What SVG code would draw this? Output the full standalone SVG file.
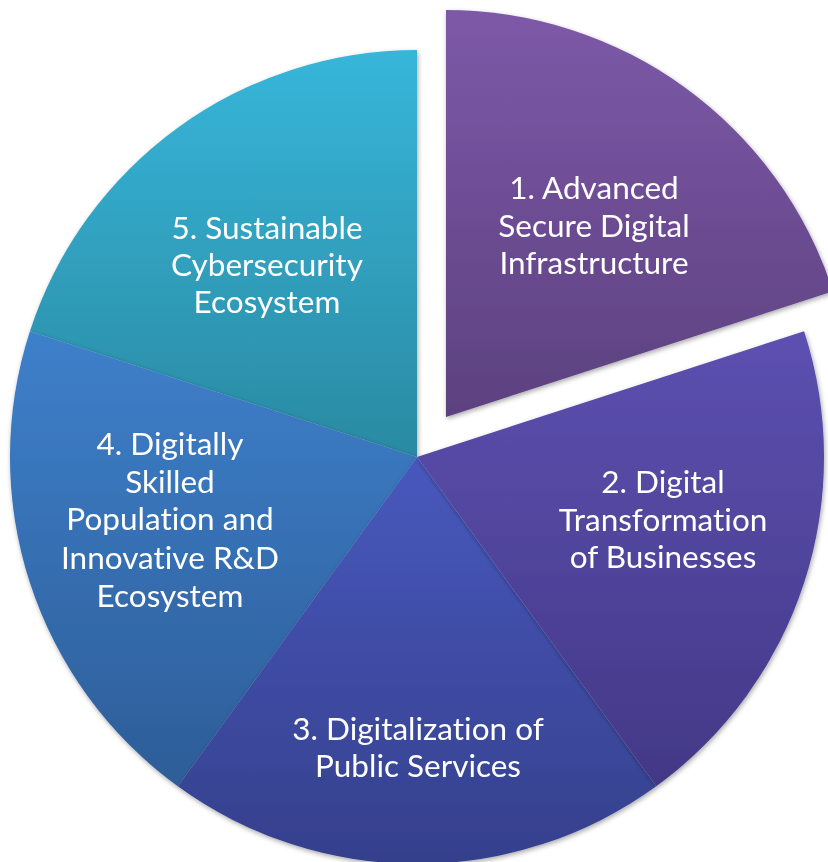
<svg xmlns="http://www.w3.org/2000/svg" width="828" height="862" viewBox="0 0 828 862">
<style>
.lbl{font-family:"Lato","Open Sans","Liberation Sans",sans-serif;font-size:31.5px;fill:#ffffff;text-anchor:middle;font-variant-ligatures:none;font-feature-settings:"liga" 0,"clig" 0}
.sl{filter:url(#sh)}
</style>
<defs>
<filter id="sh" x="-10%" y="-10%" width="120%" height="120%">
<feGaussianBlur in="SourceAlpha" stdDeviation="2.5"/>
<feOffset dx="1" dy="2" result="b"/>
<feComponentTransfer><feFuncA type="linear" slope="0.35"/></feComponentTransfer>
<feMerge><feMergeNode/><feMergeNode in="SourceGraphic"/></feMerge>
</filter>
<linearGradient id="g1" x1="0" y1="0" x2="0" y2="1"><stop offset="0" stop-color="#7d59a8"/><stop offset="1" stop-color="#5c417f"/></linearGradient>
<linearGradient id="g2" x1="0" y1="0" x2="0" y2="1"><stop offset="0" stop-color="#5c50b0"/><stop offset="1" stop-color="#433887"/></linearGradient>
<linearGradient id="g3" x1="0" y1="0" x2="0" y2="1"><stop offset="0" stop-color="#4858bd"/><stop offset="1" stop-color="#35408c"/></linearGradient>
<linearGradient id="g4" x1="0" y1="0" x2="0" y2="1"><stop offset="0" stop-color="#3e80cb"/><stop offset="1" stop-color="#2d5d98"/></linearGradient>
<linearGradient id="g5" x1="0" y1="0" x2="0" y2="1"><stop offset="0" stop-color="#37b6da"/><stop offset="1" stop-color="#2a8aa2"/></linearGradient>
</defs>
<g id="slice5" class="sl">
<path d="M417,457 L29.9,331.2 A407,407 0 0 1 417,50 Z" fill="url(#g5)"/>
<text class="lbl" x="267" y="239">5. Sustainable</text>
<text class="lbl" x="267" y="276">Cybersecurity</text>
<text class="lbl" x="267" y="313">Ecosystem</text>
</g>
<g id="slice4" class="sl">
<path d="M417,457 L177.8,786.3 A407,407 0 0 1 29.9,331.2 Z" fill="url(#g4)"/>
<text class="lbl" x="170" y="455">4. Digitally</text>
<text class="lbl" x="170" y="493">Skilled</text>
<text class="lbl" x="170" y="530">Population and</text>
<text class="lbl" x="170" y="569">Innovative R&amp;D</text>
<text class="lbl" x="170" y="607">Ecosystem</text>
</g>
<g id="slice3" class="sl">
<path d="M417,457 L656.2,786.3 A407,407 0 0 1 177.8,786.3 Z" fill="url(#g3)"/>
<text class="lbl" x="418" y="740">3. Digitalization of</text>
<text class="lbl" x="418" y="777">Public Services</text>
</g>
<g id="slice2" class="sl">
<path d="M417,457 L804.1,331.2 A407,407 0 0 1 656.2,786.3 Z" fill="url(#g2)"/>
<text class="lbl" x="663" y="493">2. Digital</text>
<text class="lbl" x="663" y="531">Transformation</text>
<text class="lbl" x="663" y="568">of Businesses</text>
</g>
<g id="slice1" class="sl">
<path d="M446,417 L446,10 A407,407 0 0 1 833.1,291.2 Z" fill="url(#g1)"/>
<text class="lbl" x="594" y="199">1. Advanced</text>
<text class="lbl" x="594" y="237">Secure Digital</text>
<text class="lbl" x="594" y="274">Infrastructure</text>
</g>
<g id="connectors"/>
</svg>
